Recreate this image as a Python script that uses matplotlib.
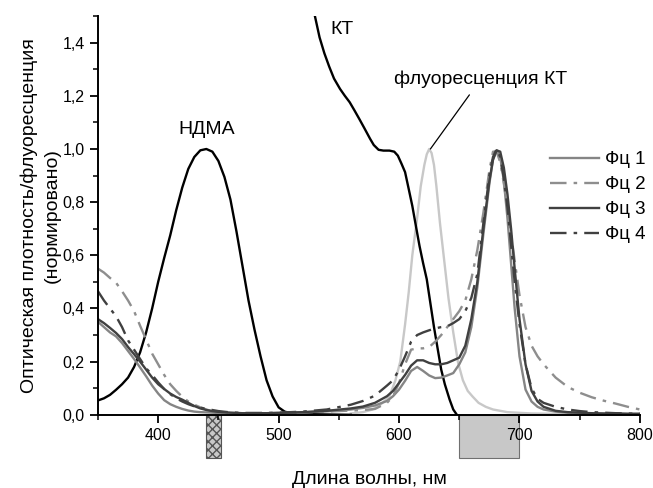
import numpy as np
import matplotlib.pyplot as plt
from matplotlib.patches import Rectangle

plt.rcParams['font.family'] = ['Liberation Sans', 'DejaVu Sans']

# ── data ─────────────────────────────────────────────────────────────────────
ndma_wl = [350, 355, 360, 365, 370, 375, 380, 385, 390, 395, 400, 405, 410, 415,
           420, 425, 430, 435, 440, 445, 450, 455, 460, 465, 470, 475, 480, 485,
           490, 495, 500, 505, 510, 530, 560]
ndma = [0.054, 0.062, 0.075, 0.094, 0.115, 0.14, 0.18, 0.235, 0.31, 0.40, 0.50,
        0.59, 0.675, 0.77, 0.855, 0.925, 0.97, 0.995, 1.0, 0.99, 0.955, 0.895,
        0.81, 0.69, 0.56, 0.43, 0.32, 0.22, 0.13, 0.069, 0.028, 0.012, 0.006,
        0.002, 0.0]

kt_wl = [524, 530, 534, 538, 542, 546, 551, 555, 559, 563, 567, 571, 576, 579,
         583, 587, 592, 596, 599, 602, 605, 608, 611, 614, 617, 620, 623, 626,
         629, 632, 635, 638, 642, 645, 648]
kt = [1.70, 1.503, 1.42, 1.36, 1.31, 1.265, 1.226, 1.20, 1.176, 1.145, 1.113,
      1.08, 1.038, 1.015, 0.997, 0.994, 0.994, 0.99, 0.975, 0.945, 0.913, 0.85,
      0.786, 0.71, 0.635, 0.57, 0.51, 0.42, 0.33, 0.25, 0.17, 0.115, 0.057,
      0.02, 0.0]

ktfl_wl = [560, 570, 578, 585, 592, 597, 601, 605, 608, 611, 615, 618, 621, 623,
           625, 627, 629, 631, 634, 637, 641, 645, 649, 653, 657, 661, 666, 672,
           678, 690, 710, 740, 800]
ktfl = [0.005, 0.01, 0.02, 0.04, 0.069, 0.13, 0.2, 0.34, 0.46, 0.60, 0.74, 0.86,
        0.94, 0.98, 1.0, 0.985, 0.94, 0.86, 0.72, 0.60, 0.44, 0.31, 0.196, 0.13,
        0.09, 0.069, 0.045, 0.03, 0.02, 0.01, 0.005, 0.003, 0.002]

fc_wl = [350, 355, 360, 365, 370, 375, 380, 385, 390, 395, 400, 405, 410, 415,
         420, 425, 430, 435, 440, 445, 450, 460, 470, 480, 490, 500, 520, 540,
         560, 570, 580, 590, 595, 600, 605, 610, 615, 620, 625, 630, 635, 640,
         645, 650, 655, 660, 665, 670, 675, 678, 681, 684, 687, 690, 693, 696,
         700, 705, 710, 715, 720, 730, 740, 750, 760, 770, 780, 790, 800]

fc1 = [0.35, 0.33, 0.31, 0.295, 0.27, 0.24, 0.21, 0.178, 0.145, 0.11, 0.08, 0.055,
       0.04, 0.03, 0.022, 0.016, 0.012, 0.01, 0.009, 0.008, 0.007, 0.006, 0.005,
       0.005, 0.006, 0.007, 0.009, 0.013, 0.02, 0.026, 0.035, 0.052, 0.07, 0.095,
       0.128, 0.165, 0.18, 0.165, 0.148, 0.138, 0.14, 0.148, 0.157, 0.19, 0.235,
       0.33, 0.48, 0.68, 0.87, 0.96, 0.995, 0.97, 0.88, 0.74, 0.57, 0.40, 0.22,
       0.095, 0.05, 0.03, 0.02, 0.012, 0.008, 0.006, 0.005, 0.004, 0.004, 0.003,
       0.003]

fc2 = [0.55, 0.535, 0.515, 0.497, 0.465, 0.43, 0.39, 0.335, 0.283, 0.23, 0.19,
       0.15, 0.115, 0.09, 0.068, 0.05, 0.038, 0.028, 0.02, 0.013, 0.01, 0.007,
       0.006, 0.006, 0.006, 0.007, 0.009, 0.012, 0.016, 0.018, 0.022, 0.045, 0.07,
       0.12, 0.19, 0.245, 0.25, 0.25, 0.255, 0.275, 0.30, 0.33, 0.36, 0.39, 0.43,
       0.51, 0.62, 0.76, 0.92, 0.99, 0.99, 0.95, 0.87, 0.78, 0.68, 0.58, 0.45,
       0.33, 0.26, 0.22, 0.19, 0.14, 0.105, 0.083, 0.066, 0.053, 0.042, 0.03, 0.02]

fc3 = [0.36, 0.345, 0.327, 0.308, 0.285, 0.255, 0.228, 0.2, 0.17, 0.14, 0.115,
       0.097, 0.08, 0.067, 0.057, 0.045, 0.033, 0.024, 0.018, 0.014, 0.011, 0.008,
       0.006, 0.006, 0.006, 0.007, 0.01, 0.015, 0.024, 0.031, 0.045, 0.07, 0.09,
       0.12, 0.15, 0.185, 0.205, 0.205, 0.195, 0.19, 0.19, 0.195, 0.205, 0.215,
       0.26, 0.36, 0.50, 0.70, 0.88, 0.96, 0.995, 0.99, 0.93, 0.83, 0.70, 0.55,
       0.36, 0.19, 0.09, 0.05, 0.03, 0.015, 0.01, 0.008, 0.006, 0.005, 0.005,
       0.004, 0.004]

fc4 = [0.465, 0.43, 0.40, 0.371, 0.33, 0.28, 0.245, 0.21, 0.175, 0.15, 0.122,
       0.097, 0.078, 0.062, 0.05, 0.04, 0.032, 0.027, 0.022, 0.018, 0.014, 0.009,
       0.007, 0.007, 0.007, 0.008, 0.012, 0.02, 0.038, 0.052, 0.072, 0.11, 0.13,
       0.17, 0.22, 0.275, 0.30, 0.31, 0.318, 0.325, 0.33, 0.333, 0.345, 0.36,
       0.39, 0.44, 0.53, 0.72, 0.90, 0.97, 1.0, 0.97, 0.89, 0.78, 0.64, 0.50,
       0.34, 0.19, 0.10, 0.06, 0.045, 0.03, 0.02, 0.014, 0.01, 0.008, 0.006,
       0.005, 0.004]

fc_labels = ["Фц 1", "Фц 2", "Фц 3", "Фц 4"]

# excitation bands drawn under the axis (nm)
band_hatch = (440, 452)
band_gray = (650, 700)

# ── figure ───────────────────────────────────────────────────────────────────
fig = plt.figure(figsize=(6.53, 4.88), dpi=100)
ax = fig.add_axes([0.150, 0.150, 0.830, 0.817])

lw = 1.7
dashdot = (0, (7, 3, 1.5, 3))
ax.plot(ktfl_wl, ktfl, color="#c8c8c8", lw=lw)
ax.plot(ndma_wl, ndma, color="black", lw=lw)
ax.plot(kt_wl, kt, color="black", lw=lw)

ax.plot(fc_wl, fc1, color="#858585", lw=lw, label=fc_labels[0])
ax.plot(fc_wl, fc2, color="#8e8e8e", lw=lw, ls=dashdot, label=fc_labels[1])
ax.plot(fc_wl, fc3, color="#404040", lw=lw, label=fc_labels[2])
ax.plot(fc_wl, fc4, color="#404040", lw=lw, ls=dashdot, label=fc_labels[3])

ax.set_xlim(350, 800)
ax.set_ylim(0, 1.5)

ax.add_patch(Rectangle((band_hatch[0], -0.162), band_hatch[1] - band_hatch[0], 0.162,
                       facecolor="#c8c8c8", edgecolor="#555555", hatch="xxxx",
                       lw=0.8, clip_on=False))
ax.add_patch(Rectangle((band_gray[0], -0.162), band_gray[1] - band_gray[0], 0.162,
                       facecolor="#c8c8c8", edgecolor="#707070",
                       lw=0.8, clip_on=False))

for s in ("top", "right"):
    ax.spines[s].set_visible(False)
for s in ("left", "bottom"):
    ax.spines[s].set_linewidth(1.4)

ax.set_xticks([400, 500, 600, 700, 800])
ax.set_xticks(np.arange(350, 801, 50), minor=True)
ax.set_yticks(np.arange(0, 1.41, 0.2))
ax.set_yticks(np.arange(0, 1.51, 0.1), minor=True)
ax.set_yticklabels([f"{v:.1f}".replace(".", ",") for v in np.arange(0, 1.41, 0.2)])
ax.tick_params(which="major", direction="out", length=6, width=1.3, labelsize=11.5)
ax.tick_params(which="minor", direction="out", length=3.5, width=1.1)

ax.set_xlabel("Длина волны, нм", fontsize=14, labelpad=20)
ax.set_ylabel("Оптическая плотность/флуоресценция\n(нормировано)", fontsize=14,
              linespacing=1.5, labelpad=1)

ax.text(440, 1.072, "НДМА", fontsize=14, ha="center", va="center")
ax.text(552.5, 1.45, "КТ", fontsize=14, ha="center", va="center")
ax.annotate("флуоресценция КТ", xy=(626, 1.0), xytext=(668, 1.264),
            fontsize=14, ha="center", va="center",
            arrowprops=dict(arrowstyle="-", color="black", lw=0.9,
                            shrinkA=4, shrinkB=0))

ax.legend(loc="upper left", bbox_to_anchor=(0.82, 0.68), frameon=False,
          fontsize=13.5, handlelength=2.6, handletextpad=0.35,
          labelspacing=0.42, borderaxespad=0)

fig.savefig("out.png", dpi=100)
